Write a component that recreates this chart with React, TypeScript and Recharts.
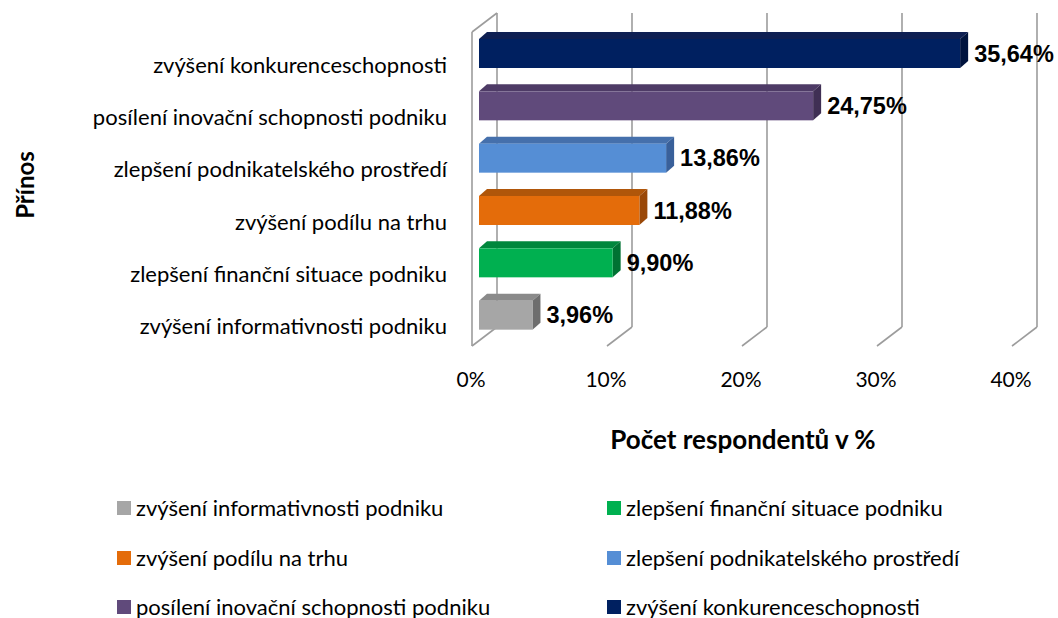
import React from 'react';
import { BarChart, Bar, XAxis, YAxis, CartesianGrid, Cell, LabelList, Label } from 'recharts';

const categories = [
  'zvýšení konkurenceschopnosti',
  'posílení inovační schopnosti podniku',
  'zlepšení podnikatelského prostředí',
  'zvýšení podílu na trhu',
  'zlepšení finanční situace podniku',
  'zvýšení informativnosti podniku',
];
const values = [35.64, 24.75, 13.86, 11.88, 9.9, 3.96];
const xTicks = [0, 10, 20, 30, 40];
const frontColors = ['#002060', '#604A7B', '#558ED5', '#E46C0A', '#00B050', '#A6A6A6'];
const topColors = ['#0E1F52', '#4E3B66', '#4570AC', '#B0560A', '#00873D', '#8A8A8A'];
const sideColors = ['#00133D', '#3F2F54', '#39609A', '#9A4808', '#007233', '#6E6E6E'];
const legendOrder = [5, 4, 3, 2, 1, 0];
const xTitle = 'Počet respondentů v %';
const yTitle = 'Přínos';

const data = categories.map((name, i) => ({ name, value: values[i] }));

const DX = 25;
const DY = -19;
const BAR_OFF_X = 7;
const BAR_OFF_Y = -5;
const BAR_DX = 8;
const BAR_DY = -7;
const GRID = '#9C9C9C';
const LABEL_FONT = 'Lato, "Open Sans", sans-serif';

const gridLine = (props: any) => {
  const { x1, y1, y2, index } = props;
  const x = x1;
  const parts: React.ReactNode[] = [];
  parts.push(<line key="b" x1={x + DX} y1={y1 + DY} x2={x + DX} y2={y2 + DY} stroke={GRID} strokeWidth={1.6} />);
  parts.push(<line key="f" x1={x + DX} y1={y2 + DY} x2={x} y2={y2} stroke={GRID} strokeWidth={1.6} />);
  if (index === 0) {
    parts.push(<line key="l" x1={x} y1={y1} x2={x} y2={y2} stroke={GRID} strokeWidth={1.6} />);
    parts.push(<line key="t" x1={x} y1={y1} x2={x + DX} y2={y1 + DY} stroke={GRID} strokeWidth={1.6} />);
  }
  return <g key={`g-${index}`}>{parts}</g>;
};

const Bar3D = (props: any) => {
  const { x, y, width, height, index } = props;
  const fx = x + BAR_OFF_X;
  const fy = y + BAR_OFF_Y;
  const w = width;
  const h = height;
  const top = `${fx},${fy} ${fx + w},${fy} ${fx + w + BAR_DX},${fy + BAR_DY} ${fx + BAR_DX},${fy + BAR_DY}`;
  const side = `${fx + w},${fy} ${fx + w + BAR_DX},${fy + BAR_DY} ${fx + w + BAR_DX},${fy + BAR_DY + h} ${fx + w},${fy + h}`;
  return (
    <g>
      <polygon points={top} fill={topColors[index]} />
      <polygon points={side} fill={sideColors[index]} />
      <rect x={fx} y={fy} width={w} height={h} fill={frontColors[index]} />
    </g>
  );
};

const fmt = (v: number) => v.toFixed(2).replace('.', ',') + '%';

const BarLabel = (props: any) => {
  const { x, y, width, height, value } = props;
  return (
    <text
      x={x + width + BAR_OFF_X + BAR_DX + 6}
      y={y + BAR_OFF_Y + height / 2}
      dominantBaseline="central"
      fontFamily='"Liberation Sans", Arial, sans-serif'
      fontWeight="bold"
      fontSize={23.5}
      fill="#000"
    >
      {fmt(Number(value))}
    </text>
  );
};

const CatTick = (props: any) => {
  const { x, y, payload } = props;
  return (
    <text x={x} y={y + 6} textAnchor="end" dominantBaseline="central" fontFamily={LABEL_FONT} fontSize={22} fill="#000">
      {payload.value}
    </text>
  );
};

const ValTick = (props: any) => {
  const { x, y, payload } = props;
  return (
    <text x={x - 1} y={y} textAnchor="middle" dominantBaseline="central" fontFamily={LABEL_FONT} fontSize={21} fill="#000">
      {payload.value + '%'}
    </text>
  );
};

export default function App() {
  return (
    <div style={{ position: 'absolute', left: 0, top: 0, width: 1058, height: 618, background: '#fff' }}>
      <BarChart
        width={1058}
        height={618}
        data={data}
        layout="vertical"
        margin={{ top: 32, right: 46, bottom: 162, left: 0 }}
        barSize={29}
      >
        <CartesianGrid horizontal={false} vertical={gridLine} />
        <XAxis
          type="number"
          domain={[0, 40]}
          ticks={xTicks}
          axisLine={false}
          tickLine={false}
          tickSize={0}
          tickMargin={32}
          height={110}
          tick={<ValTick />}
          interval={0}
        >
          <Label
            content={(p: any) => {
              const vb = p.viewBox;
              return (
                <text
                  x={vb.x + vb.width / 2 + 1}
                  y={439}
                  textAnchor="middle"
                  dominantBaseline="central"
                  fontFamily={LABEL_FONT}
                  fontWeight="bold"
                  fontSize={26}
                  fill="#000"
                >
                  {xTitle}
                </text>
              );
            }}
          />
        </XAxis>
        <YAxis
          type="category"
          dataKey="name"
          width={472}
          axisLine={false}
          tickLine={false}
          tickSize={0}
          tickMargin={25}
          tick={<CatTick />}
          interval={0}
        >
          <Label
            content={() => (
              <text
                x={24}
                y={185}
                textAnchor="middle"
                dominantBaseline="central"
                transform="rotate(-90 24 185)"
                fontFamily={LABEL_FONT}
                fontWeight="bold"
                fontSize={24}
                fill="#000"
              >
                {yTitle}
              </text>
            )}
          />
        </YAxis>
        <Bar dataKey="value" isAnimationActive={false} shape={<Bar3D />}>
          {data.map((d, i) => (
            <Cell key={d.name} fill={frontColors[i]} />
          ))}
          <LabelList dataKey="value" content={<BarLabel />} />
        </Bar>
      </BarChart>
      {legendOrder.map((ci, k) => {
        const col = k % 2;
        const row = Math.floor(k / 2);
        return (
          <div
            key={categories[ci]}
            style={{
              position: 'absolute',
              left: col === 0 ? 117 : 607,
              top: 508 + row * 49.5 - 10,
              height: 20,
              lineHeight: '20px',
              display: 'flex',
              alignItems: 'center',
              fontFamily: LABEL_FONT,
              fontSize: 22,
              whiteSpace: 'nowrap',
              color: '#000',
            }}
          >
            <span style={{ display: 'inline-block', width: 14, height: 14, background: frontColors[ci], marginRight: 5 }} />
            {categories[ci]}
          </div>
        );
      })}
    </div>
  );
}
